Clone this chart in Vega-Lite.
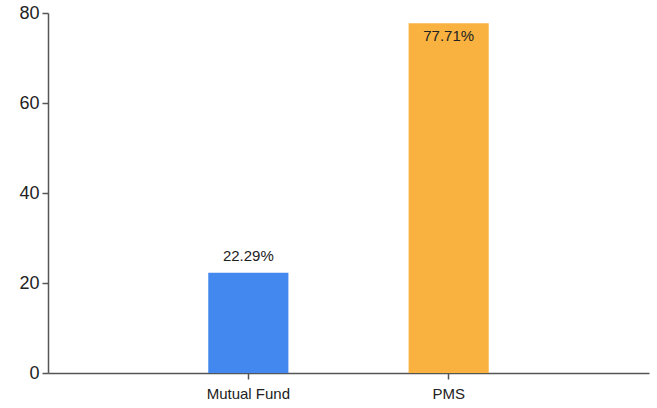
{
  "$schema": "https://vega.github.io/schema/vega-lite/v6.json",
  "width": 601,
  "height": 360,
  "autosize": {"type": "none"},
  "padding": {"left": 48, "top": 13, "right": 8, "bottom": 35},
  "background": "white",
  "config": {"view": {"stroke": null}, "font": "Liberation Sans"},
  "data": {"values": [
    {"category": "Mutual Fund", "value": 22.29, "label": "22.29%"},
    {"category": "PMS", "value": 77.71, "label": "77.71%"}
  ]},
  "encoding": {
    "x": {"field": "category", "type": "nominal", "sort": null,
      "scale": {"paddingInner": 0.6, "paddingOuter": 0.8},
      "axis": {"title": null, "labelAngle": 0, "labelFontSize": 15, "labelColor": "#222", "labelPadding": 7, "tickSize": 6, "domainColor": "#555", "tickColor": "#555", "domainWidth": 1.5, "tickWidth": 1.5, "grid": false}},
    "y": {"field": "value", "type": "quantitative",
      "scale": {"domain": [0, 80], "nice": false},
      "axis": {"title": null, "values": [0, 20, 40, 60, 80], "labelFontSize": 18, "labelColor": "#222", "labelPadding": 3, "tickSize": 6, "domainColor": "#555", "tickColor": "#555", "domainWidth": 1.5, "tickWidth": 1.5, "grid": false}}
  },
  "layer": [
    {"mark": {"type": "bar"},
      "encoding": {"color": {"field": "category", "type": "nominal", "scale": {"domain": ["Mutual Fund", "PMS"], "range": ["#4288ee", "#f9b240"]}, "legend": null}}},
    {"transform": [{"filter": "datum.value < 70"}],
      "mark": {"type": "text", "baseline": "alphabetic", "dy": -12, "fontSize": 15, "color": "#222"},
      "encoding": {"text": {"field": "label"}}},
    {"transform": [{"filter": "datum.value >= 70"}],
      "mark": {"type": "text", "baseline": "alphabetic", "dy": 18, "fontSize": 15, "color": "#222"},
      "encoding": {"text": {"field": "label"}}}
  ]
}
